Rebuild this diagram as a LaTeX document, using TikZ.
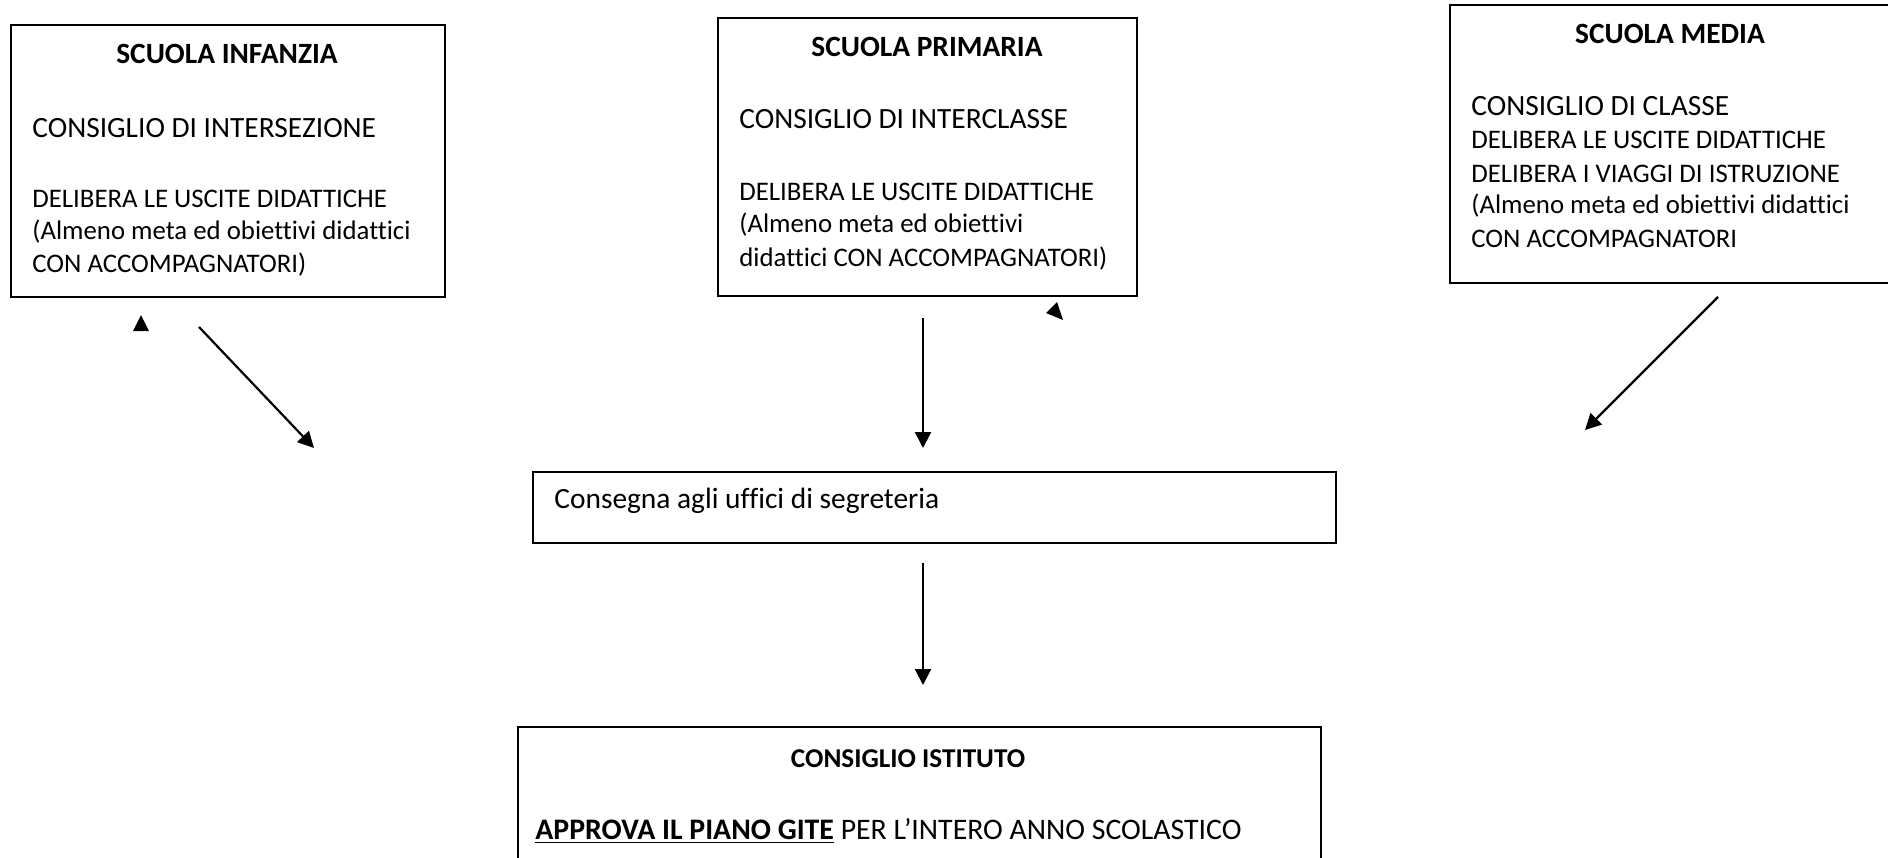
\documentclass[tikz,border=0pt]{standalone}
\usepackage{fontspec}
\setmainfont[Ligatures={NoCommon}]{Carlito}
\usetikzlibrary{arrows.meta,fit}
\begin{document}
\begin{tikzpicture}[x=0.5pt,y=-0.5pt,
  box/.style={draw, line width=1pt, inner sep=0pt},
  txt/.style={inner sep=0pt, font=\fontsize{14.7}{17}\selectfont},
  mid/.style={inner sep=0pt, font=\fontsize{13.4}{16}\selectfont},
  ttl/.style={inner sep=0pt, font=\fontsize{14.7}{17}\selectfont\bfseries},
  arr/.style={line width=1.1pt, -{Triangle[length=8pt,width=8pt]}},
  tri/.style={fill=black}]
\useasboundingbox (0,0) rectangle (1888,857);
\clip (0,0) rectangle (1888,857);
% box frames
\coordinate (inf-nw) at (11,25);   \coordinate (inf-se) at (445,297);
\coordinate (pri-nw) at (718,18);  \coordinate (pri-se) at (1137,296);
\coordinate (med-nw) at (1450,5);  \coordinate (med-se) at (1900,283);
\coordinate (seg-nw) at (533,472); \coordinate (seg-se) at (1336,543);
\coordinate (ist-nw) at (518,727); \coordinate (ist-se) at (1321,880);
\node[box, fit=(inf-nw)(inf-se)] (inf) {};
\node[box, fit=(pri-nw)(pri-se)] (pri) {};
\node[box, fit=(med-nw)(med-se)] (med) {};
\node[box, fit=(seg-nw)(seg-se)] (seg) {};
\node[box, fit=(ist-nw)(ist-se)] (ist) {};
% infanzia
\node[ttl, anchor=base] (inf-t) at (227,63) {SCUOLA INFANZIA};
\node[txt, anchor=base west] (inf-1) at (32,137) {CONSIGLIO DI INTERSEZIONE};
\node[mid, anchor=base west] (inf-2) at (32,207) {DELIBERA LE USCITE DIDATTICHE};
\node[mid, anchor=base west] (inf-3) at (32,239) {(Almeno meta ed obiettivi didattici};
\node[mid, anchor=base west] (inf-4) at (32,272) {CON ACCOMPAGNATORI)};
% primaria
\node[ttl, anchor=base] (pri-t) at (927,56) {SCUOLA PRIMARIA};
\node[txt, anchor=base west] (pri-1) at (739,128) {CONSIGLIO DI INTERCLASSE};
\node[mid, anchor=base west] (pri-2) at (739,200) {DELIBERA LE USCITE DIDATTICHE};
\node[mid, anchor=base west] (pri-3) at (739,232) {(Almeno meta ed obiettivi};
\node[mid, anchor=base west] (pri-4) at (739,266) {didattici CON ACCOMPAGNATORI)};
% media
\node[ttl, anchor=base] (med-t) at (1670,43) {SCUOLA MEDIA};
\node[txt, anchor=base west] (med-1) at (1471,115) {CONSIGLIO DI CLASSE};
\node[mid, anchor=base west] (med-2) at (1471,148) {DELIBERA LE USCITE DIDATTICHE};
\node[mid, anchor=base west] (med-3) at (1471,182) {DELIBERA I VIAGGI DI ISTRUZIONE};
\node[mid, anchor=base west] (med-4) at (1471,213) {(Almeno meta ed obiettivi didattici};
\node[mid, anchor=base west] (med-5) at (1471,247) {CON ACCOMPAGNATORI};
% segreteria
\node[txt, anchor=base west] (seg-1) at (554,508) {Consegna agli uffici di segreteria};
% istituto
\node[inner sep=0pt, font=\fontsize{13.6}{16}\selectfont\bfseries, anchor=base] (ist-t) at (908,767) {CONSIGLIO ISTITUTO};
\node[inner sep=0pt, font=\fontsize{14.9}{17}\selectfont, anchor=base west] (ist-1) at (535,839) {\textbf{\underline{APPROVA IL PIANO GITE}} PER L’INTERO ANNO SCOLASTICO};
% connectors
\coordinate (a1s) at (199,327);  \coordinate (a1e) at (314,448);
\coordinate (a2s) at (923,318);  \coordinate (a2e) at (923,448);
\coordinate (a3s) at (1718,297); \coordinate (a3e) at (1585,430);
\coordinate (a4s) at (923,563);  \coordinate (a4e) at (923,685);
\draw[arr] (a1s) -- (a1e);
\draw[arr] (a2s) -- (a2e);
\draw[arr] (a3s) -- (a3e);
\draw[arr] (a4s) -- (a4e);
% stray arrowheads
\fill[tri] (141,315) -- (133,331) -- (149,331) -- cycle;
\fill[tri] (1046,313) -- (1057,302) -- (1063,320) -- cycle;
\end{tikzpicture}
\end{document}
